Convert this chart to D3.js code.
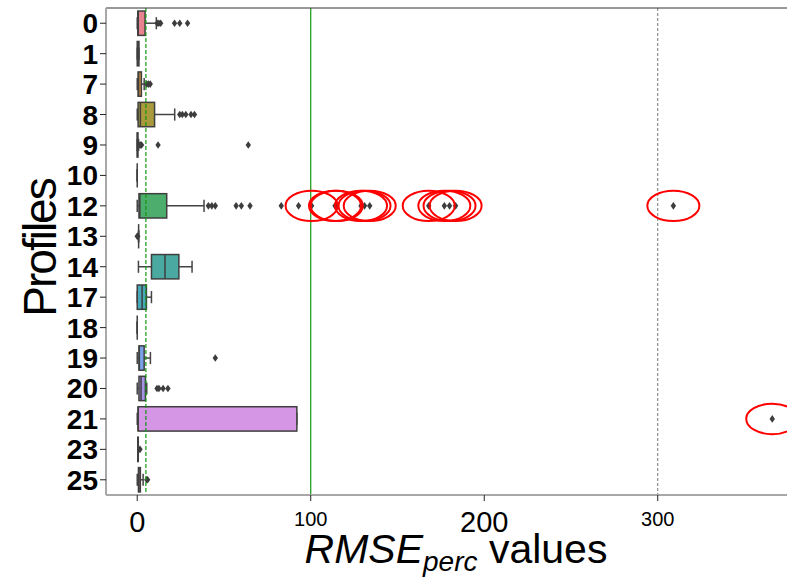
<!DOCTYPE html>
<html>
<head>
<meta charset="utf-8">
<script src="https://cdnjs.cloudflare.com/ajax/libs/d3/7.8.5/d3.min.js"></script>
<style>
body { margin: 0; background: #fff; }
text { font-family: "Liberation Sans", Arial, sans-serif; fill: #000; }
</style>
</head>
<body>
<script>
// boxplot stats per profile
var profiles = ["0", "1", "7", "8", "9", "10", "12", "13", "14", "17", "18", "19", "20", "21", "23", "25"]
var whiskLo = [0, 0, 0, 0, 0, 0, 0, 0.8, 0.7, 0, 0, 0, 0, 0, 0.3, 0]
var q1 = [0.3, 0, 0.5, 0.5, 0, 0, 1, 0.8, 8.2, 0, 0, 1, 1, 0.5, 0.3, 0.7]
var median = [0.6, 0.5, 0.8, 1.8, 0.1, 0, 1.5, 0.8, 16, 2.8, 0, 1.2, 2.2, 0.5, 0.5, 1]
var q3 = [4.5, 1, 2.4, 10, 0.4, 0, 17, 0.8, 24, 5.3, 0, 4, 4.7, 92, 0.6, 1.8]
var whiskHi = [11, 1, 4, 21.6, 0.8, 0, 38.5, 0.8, 31.6, 8.2, 0, 7.6, 5.5, 92, 0.6, 3.4]
var outliers = [
  [11.5, 12.5, 13.5, 21.5, 24.5, 29],
  [],
  [5.5, 6.5, 7.5],
  [24.5, 26, 28, 31, 33],
  [1.5, 2, 2.5, 12, 64],
  [],
  [41, 43, 45, 57, 60, 65, 83, 93, 100.5, 114, 115, 129, 131, 134, 168, 177, 180, 183.5, 309],
  [0, 0.3],
  [],
  [],
  [],
  [45],
  [11.4, 12.5, 14.9, 17.7],
  [366],
  [1.6],
  [5.5, 6]
]
var xTicks = [0, 100, 200, 300]
var refLines = [5, 100, 300]
var flagLimit = 100

var colors = ["#e8848f", "#e08a6c", "#cf9040", "#a99b3d", "#98a13e", "#82a83e", "#4cad6c", "#4aad8d",
  "#4aaaa1", "#47a8b7", "#4ca4c9", "#78a1e6", "#a594e6", "#d596e6", "#e08ac9", "#e48aaa"]

var W = 787, H = 577
var mLeft = 106, mRight = 787, mTop = 8, mBottom = 495

var svg = d3.select("body").append("svg")
  .attr("width", W)
  .attr("height", H)

var x = d3.scaleLinear().domain([-18, 374.5]).range([mLeft, mRight])
var y = d3.scaleBand().domain(profiles).range([mTop, mBottom])
var bw = y.bandwidth() * 0.8
function cy(i){ return y(profiles[i]) + y.bandwidth() / 2 }

var idx = d3.range(profiles.length)

// boxes
var g = svg.append("g")

g.selectAll("line.whisk")
  .data(idx)
  .enter()
  .append("line")
  .attr("x1", function(i){ return x(whiskLo[i]) })
  .attr("x2", function(i){ return x(whiskHi[i]) })
  .attr("y1", cy)
  .attr("y2", cy)
  .attr("stroke", "#444")
  .attr("stroke-width", 1.5)

g.selectAll("line.caplo")
  .data(idx)
  .enter()
  .append("line")
  .attr("x1", function(i){ return x(whiskLo[i]) })
  .attr("x2", function(i){ return x(whiskLo[i]) })
  .attr("y1", function(i){ return cy(i) - bw / 4 })
  .attr("y2", function(i){ return cy(i) + bw / 4 })
  .attr("stroke", "#444")
  .attr("stroke-width", 1.5)

g.selectAll("line.caphi")
  .data(idx)
  .enter()
  .append("line")
  .attr("x1", function(i){ return x(whiskHi[i]) })
  .attr("x2", function(i){ return x(whiskHi[i]) })
  .attr("y1", function(i){ return cy(i) - bw / 4 })
  .attr("y2", function(i){ return cy(i) + bw / 4 })
  .attr("stroke", "#444")
  .attr("stroke-width", 1.5)

g.selectAll("rect.box")
  .data(idx)
  .enter()
  .append("rect")
  .attr("x", function(i){ return x(q1[i]) })
  .attr("y", function(i){ return cy(i) - bw / 2 })
  .attr("width", function(i){ return x(q3[i]) - x(q1[i]) })
  .attr("height", bw)
  .attr("fill", function(i){ return colors[i] })
  .attr("stroke", "#3f3f3f")
  .attr("stroke-width", 1.5)

g.selectAll("line.med")
  .data(idx)
  .enter()
  .append("line")
  .attr("x1", function(i){ return x(median[i]) })
  .attr("x2", function(i){ return x(median[i]) })
  .attr("y1", function(i){ return cy(i) - bw / 2 })
  .attr("y2", function(i){ return cy(i) + bw / 2 })
  .attr("stroke", "#3f3f3f")
  .attr("stroke-width", 1.5)

// outlier diamonds
var pts = []
idx.forEach(function(i){
  outliers[i].forEach(function(v){ pts.push({i: i, v: v}) })
})

g.selectAll("path.out")
  .data(pts)
  .enter()
  .append("path")
  .attr("d", function(d){
    var px = x(d.v), py = cy(d.i)
    return "M" + px + "," + (py - 3.8) + "L" + (px + 2.7) + "," + py + "L" + px + "," + (py + 3.8) + "L" + (px - 2.7) + "," + py + "Z"
  })
  .attr("fill", "#3d3d3d")

// reference lines
svg.selectAll("line.ref")
  .data(refLines)
  .enter()
  .append("line")
  .attr("x1", function(d){ return x(d) })
  .attr("x2", function(d){ return x(d) })
  .attr("y1", mTop)
  .attr("y2", mBottom)
  .attr("stroke", function(d){ return d === 300 ? "#777" : "#119911" })
  .attr("stroke-width", function(d){ return d === 300 ? 1 : 1.2 })
  .attr("stroke-dasharray", function(d){ return d === 100 ? null : (d === 300 ? "3,2" : "4,2") })

// red rings round the flagged points
svg.selectAll("ellipse.flag")
  .data(pts.filter(function(d){ return d.v >= flagLimit }))
  .enter()
  .append("ellipse")
  .attr("cx", function(d){ return x(d.v) })
  .attr("cy", function(d){ return cy(d.i) })
  .attr("rx", x(15) - x(0))
  .attr("ry", y.bandwidth() / 2)
  .attr("fill", "none")
  .attr("stroke", "#ff0000")
  .attr("stroke-width", 2)

// spines
svg.append("line")
  .attr("x1", mLeft).attr("x2", mRight).attr("y1", mTop).attr("y2", mTop)
  .attr("stroke", "#333").attr("stroke-width", 1)
svg.append("line")
  .attr("x1", mLeft).attr("x2", mLeft).attr("y1", mTop).attr("y2", mBottom)
  .attr("stroke", "#a8a8a8").attr("stroke-width", 2)
svg.append("line")
  .attr("x1", mLeft).attr("x2", mRight).attr("y1", mBottom).attr("y2", mBottom)
  .attr("stroke", "#a8a8a8").attr("stroke-width", 2)

// y axis
svg.selectAll("line.ytick")
  .data(profiles)
  .enter()
  .append("line")
  .attr("x1", mLeft - 6)
  .attr("x2", mLeft)
  .attr("y1", function(d){ return y(d) + y.bandwidth() / 2 })
  .attr("y2", function(d){ return y(d) + y.bandwidth() / 2 })
  .attr("stroke", "#222")
  .attr("stroke-width", 1)

svg.selectAll("text.ylab")
  .data(profiles)
  .enter()
  .append("text")
  .attr("x", mLeft - 8)
  .attr("y", function(d){ return y(d) + y.bandwidth() / 2 + 10 })
  .attr("text-anchor", "end")
  .attr("font-size", 28)
  .attr("font-weight", "bold")
  .text(function(d){ return d })

// x axis
svg.selectAll("line.xtick")
  .data(xTicks)
  .enter()
  .append("line")
  .attr("x1", function(d){ return x(d) })
  .attr("x2", function(d){ return x(d) })
  .attr("y1", mBottom)
  .attr("y2", mBottom + 6)
  .attr("stroke", "#222")

svg.selectAll("text.xlab")
  .data(xTicks)
  .enter()
  .append("text")
  .attr("x", function(d){ return x(d) })
  .attr("text-anchor", "middle")
  .attr("font-size", function(d){ return d === 100 || d === 300 ? 20 : 29 })
  .attr("y", function(d){ return d === 100 || d === 300 ? 526 : 532 })
  .text(function(d){ return d })

// titles
svg.append("text")
  .attr("transform", "translate(56,248) rotate(-90)")
  .attr("text-anchor", "middle")
  .attr("font-size", 46)
  .attr("letter-spacing", -2)
  .text("Profiles")

var xt = svg.append("text")
  .attr("x", 456)
  .attr("y", 563)
  .attr("text-anchor", "middle")
  .attr("font-size", 41)
xt.append("tspan").attr("font-style", "italic").text("RMSE")
xt.append("tspan").attr("font-style", "italic").attr("font-size", 28).attr("dy", 8).text("perc")
xt.append("tspan").attr("dy", -8).text(" values")
</script>
</body>
</html>
